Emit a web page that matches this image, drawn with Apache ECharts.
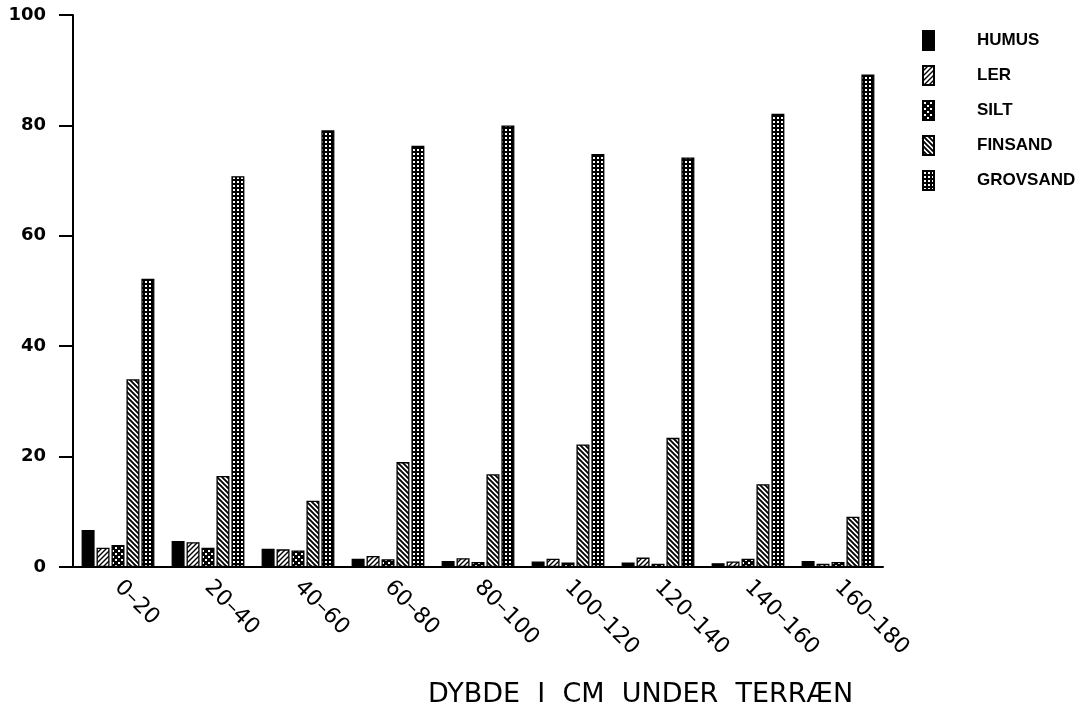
<!DOCTYPE html>
<html>
<head>
<meta charset="utf-8">
<script src="https://cdn.jsdelivr.net/npm/echarts@6/dist/echarts.min.js"></script>
<style>
html,body{margin:0;padding:0;background:#fff;}
#chart{width:1082px;height:717px;}
</style>
</head>
<body>
<div id="chart"></div>
<script>
const categories = ['0–20','20–40','40–60','60–80','80–100','100–120','120–140','140–160','160–180'];
const humus    = [6.7, 4.7, 3.3, 1.5, 1.1, 1.0, 0.8, 0.7, 1.1];
const ler      = [3.5, 4.5, 3.2, 2.0, 1.6, 1.5, 1.7, 1.0, 0.6];
const silt     = [4.0, 3.5, 3.0, 1.4, 0.9, 0.8, 0.6, 1.5, 0.9];
const finsand  = [34.0, 16.5, 12.0, 19.0, 16.8, 22.2, 23.4, 15.0, 9.1];
const grovsand = [52.2, 70.8, 79.1, 76.3, 80.0, 74.8, 74.2, 82.1, 89.2];
const seriesNames = ['HUMUS','LER','SILT','FINSAND','GROVSAND'];
const yTicks = [0,20,40,60,80,100];

function pattern(kind){
  const c = document.createElement('canvas');
  let ctx;
  if(kind==='ler' || kind==='fin'){
    const s = 5;
    c.width=s; c.height=s; ctx=c.getContext('2d');
    ctx.fillStyle='#fff'; ctx.fillRect(0,0,s,s);
    ctx.strokeStyle='#000'; ctx.lineWidth = kind==='fin'?1.9:1.4;
    ctx.beginPath();
    if(kind==='ler'){
      ctx.moveTo(-1,s+1); ctx.lineTo(s+1,-1);
      ctx.moveTo(-1,1); ctx.lineTo(1,-1);
      ctx.moveTo(s-1,s+1); ctx.lineTo(s+1,s-1);
    } else {
      ctx.moveTo(-1,-1); ctx.lineTo(s+1,s+1);
      ctx.moveTo(-1,s-1); ctx.lineTo(1,s+1);
      ctx.moveTo(s-1,-1); ctx.lineTo(s+1,1);
    }
    ctx.stroke();
  } else if(kind==='silt'){
    c.width=6; c.height=6; ctx=c.getContext('2d');
    ctx.fillStyle='#000'; ctx.fillRect(0,0,6,6);
    ctx.fillStyle='#fff';
    ctx.fillRect(1,1,2,2); ctx.fillRect(4,4,2,2);
  } else {
    c.width=4; c.height=4; ctx=c.getContext('2d');
    ctx.fillStyle='#000'; ctx.fillRect(0,0,4,4);
    ctx.fillStyle='#fff';
    ctx.fillRect(1,1,2,2);
  }
  return {image:c, repeat:'repeat'};
}

const fills = ['#000', pattern('ler'), pattern('silt'), pattern('fin'), pattern('grov')];
const dataSets = [humus, ler, silt, finsand, grovsand];

const chart = echarts.init(document.getElementById('chart'), null, {renderer:'canvas'});
chart.setOption({
  animation:false,
  backgroundColor:'#fff',
  title:{
    text:'DYBDE  I  CM  UNDER  TERRÆN',
    left:428, top:681, padding:0,
    textStyle:{fontFamily:'DejaVu Sans', fontWeight:'normal', fontSize:27, color:'#000'}
  },
  legend:{
    orient:'vertical', left:922, top:30, padding:0,
    icon:'rect', itemWidth:11, itemHeight:19, itemGap:14,
    data:seriesNames,
    textStyle:{fontFamily:'Liberation Sans', fontWeight:'bold', fontSize:17, color:'#000', padding:[0,0,0,38]}
  },
  grid:{left:73, right:199, top:15, bottom:150},
  xAxis:{
    type:'category', data:categories, boundaryGap:true,
    axisLine:{lineStyle:{color:'#000', width:2}},
    axisTick:{alignWithLabel:true, length:14, lineStyle:{color:'#000', width:2}},
    axisLabel:{rotate:-45, margin:17, fontFamily:'DejaVu Sans', fontWeight:'normal', fontSize:22, color:'#000'}
  },
  yAxis:{
    type:'value', min:yTicks[0], max:yTicks[yTicks.length-1], interval:20,
    axisLine:{show:true, lineStyle:{color:'#000', width:2}},
    axisTick:{show:true, length:14, lineStyle:{color:'#000', width:2}},
    splitLine:{show:false},
    axisLabel:{margin:27, fontFamily:'DejaVu Sans', fontWeight:'bold', fontSize:18, color:'#000'}
  },
  series: seriesNames.map((n,i)=>({
    name:n, type:'bar', data:dataSets[i],
    barWidth:13, barGap:'15%',
    itemStyle:{color:fills[i], borderColor:'#000', borderWidth:1.3}
  }))
});
</script>
</body>
</html>
